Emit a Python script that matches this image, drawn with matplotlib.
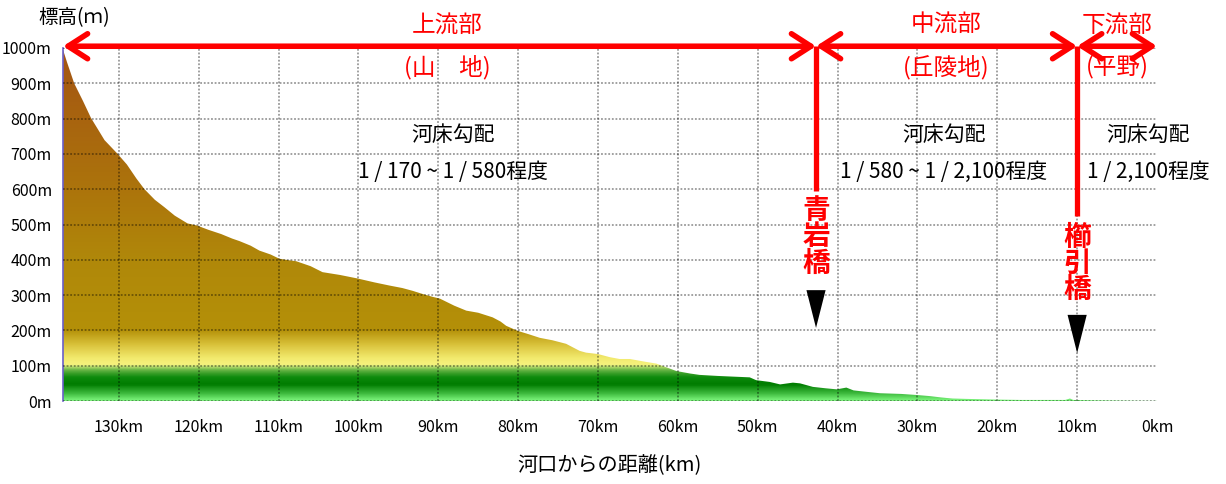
import numpy as np
import matplotlib
matplotlib.use('Agg')
import matplotlib.pyplot as plt
from matplotlib.colors import LinearSegmentedColormap
from matplotlib.patches import Polygon

plt.rcParams['font.family'] = ['Noto Sans CJK JP', 'DejaVu Sans']

# river profile: distance from river mouth (km) and bed elevation (m)
dist_km = [137.0, 136.5, 135.6, 134.5, 133.5, 132.5, 131.8, 131.0, 130.2, 129.0,
           127.8, 126.8, 125.5, 124.3, 123.0, 121.4, 120.2, 118.8, 117.2, 115.8,
           114.9, 113.5, 112.4, 111.0, 109.9, 108.8, 107.8, 106.0, 104.5, 102.3,
           100.1, 98.0, 96.1, 94.5, 93.2, 91.8, 90.7, 89.8, 88.0, 86.5,
           85.0, 83.2, 82.2, 81.5, 80.1, 78.8, 77.3, 75.7, 74.0, 72.3,
           71.5, 70.0, 68.5, 67.3, 66.0, 64.3, 62.7, 61.5, 60.2, 58.5,
           57.3, 55.0, 53.0, 51.0, 50.2, 48.5, 47.2, 45.6, 44.7, 43.1,
           41.5, 40.1, 38.9, 38.0, 36.8, 34.7, 32.0, 30.1, 28.5, 27.0,
           25.6, 24.0, 22.0, 20.0, 17.0, 14.0, 11.5, 10.9, 10.5, 8.0,
           4.5, 2.0, 0.0]
elev_m = [995, 960, 900, 850, 802, 765, 739, 720, 701, 670,
          630, 600, 570, 549, 525, 503, 497, 485, 473, 460,
          453, 440, 426, 415, 403, 399, 396, 382, 365, 357,
          347, 336, 327, 320, 312, 302, 295, 290, 270, 256,
          250, 237, 225, 213, 199, 190, 179, 172, 162, 142,
          137, 133, 124, 119, 119, 112, 106, 96, 85, 78,
          74, 71, 69, 67, 59, 54, 47, 52, 50, 40,
          36, 33, 38, 30, 27, 22, 20, 17, 14, 10,
          7, 6, 5, 4, 3, 3, 3, 7, 3, 2,
          1, 0.5, 0.3]

x_ticks = [130, 120, 110, 100, 90, 80, 70, 60, 50, 40, 30, 20, 10, 0]
y_ticks = [0, 100, 200, 300, 400, 500, 600, 700, 800, 900, 1000]

# reach boundaries (km) and labels
reach_bounds = [137.0, 42.7, 10.0, 0.0]
reach_names = ['上流部', '中流部', '下流部']
reach_terrain = ['(山　地)', '(丘陵地)', '(平野)']
reach_label_x = [88.9, 26.4, 5.0]
slope_x = [88.2, 26.7, 1.1]
slope_text = ['1 / 170 ~ 1 / 580程度', '1 / 580 ~ 1 / 2,100程度', '1 / 2,100程度']

# bridges
bridge_names = ['青岩橋', '櫛引橋']
bridge_km = [42.7, 10.0]
bridge_line_bottom = [595, 525]
bridge_label_top = [578, 502]
bridge_tri_top = [314, 244]
bridge_tri_tip = [207, 136]

fig = plt.figure(figsize=(12.26, 4.84), dpi=100)
ax = fig.add_axes([63/1226, 1-401/484, (1157-63)/1226, 353/484])

cmap = LinearSegmentedColormap.from_list('elev', [
    (0.000, '#7cf57c'), (0.020, '#3cb83c'), (0.045, '#007c00'),
    (0.065, '#0c8a0c'), (0.085, '#5eb040'), (0.097, '#c4e274'),
    (0.100, '#f6f27e'), (0.120, '#f2ea6e'), (0.160, '#d8c038'),
    (0.200, '#b49008'), (0.400, '#b0880a'), (0.600, '#ac740c'),
    (0.800, '#a8640f'), (1.000, '#a45414')])

grad = np.linspace(0, 1, 1000)[:, None]
img = ax.imshow(grad, extent=[137, 0, 0, 1000], origin='lower', aspect='auto',
                cmap=cmap, vmin=0, vmax=1, zorder=1, interpolation='bilinear')
verts = np.column_stack([np.r_[dist_km, dist_km[-1], dist_km[0]],
                         np.r_[elev_m, 0, 0]])
prof = Polygon(verts, closed=True, facecolor='none', edgecolor='none')
ax.add_patch(prof)
img.set_clip_path(prof)

ax.set_xlim(137, 0)
ax.set_ylim(0, 1000)
ax.set_xticks(x_ticks)
ax.set_xticklabels([f'{v}km' for v in x_ticks])
ax.set_yticks(y_ticks)
ax.set_yticklabels([f'{v}m' for v in y_ticks])
ax.tick_params(length=0, labelsize=11.5)
ax.tick_params(axis='x', pad=13)
ax.tick_params(axis='y', pad=8)
for s in ['top', 'right', 'bottom']:
    ax.spines[s].set_visible(False)
ax.spines['left'].set_color('#6a5fc8')
ax.spines['left'].set_linewidth(1.2)

ax.grid(True, color='black', alpha=0.4, linestyle=(0, (1, 1)), linewidth=1.3)
ax.xaxis.get_gridlines()[-1].set_visible(False)
ax.set_axisbelow(False)

ax.set_xlabel('河口からの距離(km)', fontsize=14.5, labelpad=14)
fig.text(38/1226, 1-18/484, '標高(ｍ)', fontsize=14, va='center', ha='left')

# reach arrows and labels
for i in range(3):
    ax.annotate('', xy=(reach_bounds[i+1], 1005), xytext=(reach_bounds[i], 1005),
                arrowprops=dict(arrowstyle='<->,head_length=0.7,head_width=0.45',
                                color='red', lw=4, mutation_scale=20,
                                shrinkA=0, shrinkB=0),
                annotation_clip=False, zorder=5)
    ax.text(reach_label_x[i], 1065, reach_names[i],
            color='red', fontsize=17, ha='center', va='center', clip_on=False)
    ax.text(reach_label_x[i], 946, reach_terrain[i],
            color='red', fontsize=17, ha='center', va='center', clip_on=False)
    ax.text(slope_x[i], 753, '河床勾配', fontsize=15, ha='center', va='center',
            clip_on=False)
    ax.text(slope_x[i], 649, slope_text[i], fontsize=15, ha='center', va='center',
            clip_on=False)

# bridges
half_w = 1.2
for k, lb, lt, tt, tp, nm in zip(bridge_km, bridge_line_bottom, bridge_label_top,
                                 bridge_tri_top, bridge_tri_tip, bridge_names):
    ax.plot([k, k], [1005, lb], color='red', lw=3.8, clip_on=False, zorder=5,
            solid_capstyle='butt')
    ax.text(k, lt, '\n'.join(nm), color='red', fontsize=20, fontweight='bold',
            ha='center', va='top', linespacing=0.92, zorder=6)
    ax.add_patch(Polygon([(k - half_w, tt), (k + half_w, tt), (k, tp)], closed=True,
                         facecolor='black', edgecolor='none', zorder=6))

plt.savefig('out.png', dpi=100)
plt.close()
